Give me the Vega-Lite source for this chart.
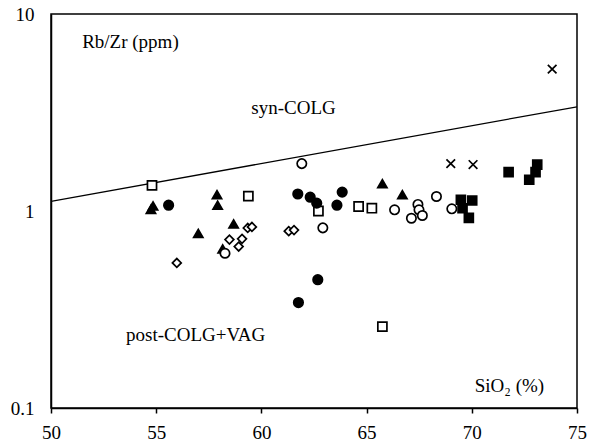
{
  "$schema": "https://vega.github.io/schema/vega-lite/v6.json",
  "autosize": {"type": "none"},
  "padding": {"left": 51, "top": 14, "right": 20, "bottom": 37},
  "width": 526,
  "height": 394,
  "background": "white",
  "config": {
    "view": {"stroke": "black", "strokeWidth": 1.5},
    "font": "Liberation Serif",
    "axis": {
      "grid": false,
      "labelFont": "Liberation Serif",
      "labelFontSize": 19,
      "labelColor": "black",
      "domainColor": "black",
      "domainWidth": 1.5,
      "tickColor": "black",
      "tickWidth": 1.5,
      "title": null
    }
  },
  "layer": [
    {
      "data": {"values": [{"sio2": 50, "rbzr": 1.12}, {"sio2": 75, "rbzr": 3.38}]},
      "mark": {"type": "line", "color": "black", "strokeWidth": 1.3, "clip": true},
      "encoding": {
        "x": {"field": "sio2", "type": "quantitative", "scale": {"domain": [50, 75], "nice": false, "zero": false},
          "axis": {"values": [50, 55, 60, 65, 70, 75], "tickSize": 5, "labelPadding": 10, "labelFlush": false}},
        "y": {"field": "rbzr", "type": "quantitative", "scale": {"type": "log", "domain": [0.1, 10], "nice": false},
          "axis": {"values": [0.1, 1, 10], "format": "~g", "ticks": false, "labelPadding": 17, "labelFlush": false}}
      }
    },
    {
      "data": {"values": [
        {"group": "openSquare", "sio2": 54.8, "rbzr": 1.35},
        {"group": "openSquare", "sio2": 59.38, "rbzr": 1.19},
        {"group": "openSquare", "sio2": 62.71, "rbzr": 1.0},
        {"group": "openSquare", "sio2": 64.62, "rbzr": 1.054},
        {"group": "openSquare", "sio2": 65.25, "rbzr": 1.033},
        {"group": "openSquare", "sio2": 65.75, "rbzr": 0.259},
        {"group": "filledTriangle", "sio2": 54.75, "rbzr": 1.02},
        {"group": "filledTriangle", "sio2": 54.85, "rbzr": 1.06},
        {"group": "filledTriangle", "sio2": 57.89, "rbzr": 1.21},
        {"group": "filledTriangle", "sio2": 57.92, "rbzr": 1.07},
        {"group": "filledTriangle", "sio2": 58.68, "rbzr": 0.86},
        {"group": "filledTriangle", "sio2": 57.0, "rbzr": 0.77},
        {"group": "filledTriangle", "sio2": 58.16, "rbzr": 0.642},
        {"group": "filledTriangle", "sio2": 65.75, "rbzr": 1.375},
        {"group": "filledTriangle", "sio2": 66.7, "rbzr": 1.21},
        {"group": "filledCircle", "sio2": 55.59, "rbzr": 1.07},
        {"group": "filledCircle", "sio2": 61.73, "rbzr": 1.22},
        {"group": "filledCircle", "sio2": 62.32, "rbzr": 1.175},
        {"group": "filledCircle", "sio2": 62.63, "rbzr": 1.096},
        {"group": "filledCircle", "sio2": 63.84, "rbzr": 1.247},
        {"group": "filledCircle", "sio2": 63.59, "rbzr": 1.07},
        {"group": "filledCircle", "sio2": 62.68, "rbzr": 0.448},
        {"group": "filledCircle", "sio2": 61.76, "rbzr": 0.343},
        {"group": "openDiamond", "sio2": 59.35, "rbzr": 0.82},
        {"group": "openDiamond", "sio2": 59.55, "rbzr": 0.83},
        {"group": "openDiamond", "sio2": 58.48, "rbzr": 0.716},
        {"group": "openDiamond", "sio2": 59.08, "rbzr": 0.722},
        {"group": "openDiamond", "sio2": 58.92, "rbzr": 0.66},
        {"group": "openDiamond", "sio2": 55.98, "rbzr": 0.545},
        {"group": "openDiamond", "sio2": 61.3, "rbzr": 0.79},
        {"group": "openDiamond", "sio2": 61.55, "rbzr": 0.8},
        {"group": "openCircle", "sio2": 58.27, "rbzr": 0.61},
        {"group": "openCircle", "sio2": 61.92, "rbzr": 1.74},
        {"group": "openCircle", "sio2": 62.92, "rbzr": 0.821},
        {"group": "openCircle", "sio2": 66.33, "rbzr": 1.014},
        {"group": "openCircle", "sio2": 67.44, "rbzr": 1.08},
        {"group": "openCircle", "sio2": 67.49, "rbzr": 1.014},
        {"group": "openCircle", "sio2": 67.13, "rbzr": 0.919},
        {"group": "openCircle", "sio2": 67.65, "rbzr": 0.949},
        {"group": "openCircle", "sio2": 68.32, "rbzr": 1.185},
        {"group": "openCircle", "sio2": 69.05, "rbzr": 1.026},
        {"group": "cross", "sio2": 69.0, "rbzr": 1.74},
        {"group": "cross", "sio2": 70.06, "rbzr": 1.72},
        {"group": "cross", "sio2": 73.82, "rbzr": 5.25},
        {"group": "filledSquare", "sio2": 69.48, "rbzr": 1.14},
        {"group": "filledSquare", "sio2": 70.02, "rbzr": 1.13},
        {"group": "filledSquare", "sio2": 69.56, "rbzr": 1.033},
        {"group": "filledSquare", "sio2": 69.86, "rbzr": 0.923},
        {"group": "filledSquare", "sio2": 71.75, "rbzr": 1.575},
        {"group": "filledSquare", "sio2": 73.11, "rbzr": 1.72},
        {"group": "filledSquare", "sio2": 73.03, "rbzr": 1.575},
        {"group": "filledSquare", "sio2": 72.73, "rbzr": 1.44}
      ]},
      "mark": {"type": "point", "filled": true, "stroke": "black", "strokeWidth": 1.7, "opacity": 1},
      "encoding": {
        "x": {"field": "sio2", "type": "quantitative"},
        "y": {"field": "rbzr", "type": "quantitative"},
        "shape": {"field": "group", "type": "nominal", "legend": null,
          "scale": {"domain": ["filledCircle", "openCircle", "filledTriangle", "openSquare", "filledSquare", "openDiamond", "cross"],
            "range": ["circle", "circle", "triangle-up", "square", "square", "diamond", "M-1,-1L1,1M1,-1L-1,1"]}},
        "fill": {"field": "group", "type": "nominal", "legend": null,
          "scale": {"domain": ["filledCircle", "openCircle", "filledTriangle", "openSquare", "filledSquare", "openDiamond", "cross"],
            "range": ["black", "white", "black", "white", "black", "white", "transparent"]}},
        "size": {"field": "group", "type": "nominal", "legend": null,
          "scale": {"domain": ["filledCircle", "openCircle", "filledTriangle", "openSquare", "filledSquare", "openDiamond", "cross"],
            "range": [90, 75, 145, 95, 118, 88, 110]}}
      }
    },
    {
      "data": {"values": [
        {"sio2": 51.48, "rbzr": 7.2, "label": "Rb/Zr (ppm)"},
        {"sio2": 59.52, "rbzr": 3.34, "label": "syn-COLG"},
        {"sio2": 53.57, "rbzr": 0.234, "label": "post-COLG+VAG"},
        {"sio2": 70.14, "rbzr": 0.13, "label": "SiO₂ (%)"}
      ]},
      "mark": {"type": "text", "align": "left", "baseline": "middle", "font": "Liberation Serif", "fontSize": 19, "color": "black"},
      "encoding": {
        "x": {"field": "sio2", "type": "quantitative"},
        "y": {"field": "rbzr", "type": "quantitative"},
        "text": {"field": "label"}
      }
    }
  ]
}
